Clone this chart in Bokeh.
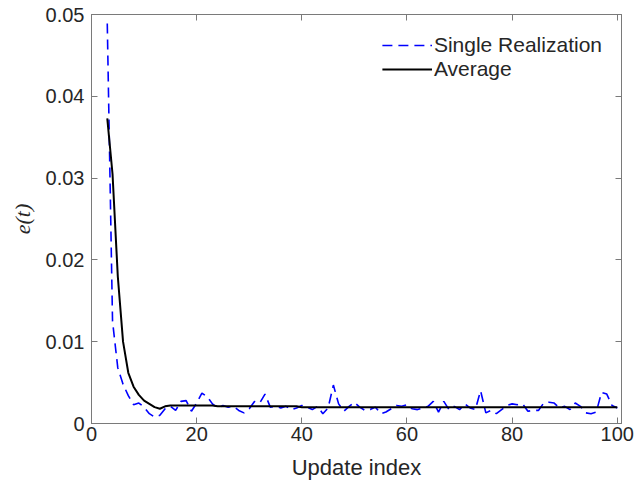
from bokeh.plotting import figure
from bokeh.models import (Range1d, LinearAxis, FixedTicker, CustomJSTickFormatter,
                          Legend, LegendItem)
from bokeh.embed import file_html
from bokeh.resources import INLINE

# ---- data ----
x_single = list(range(3, 101))
y_single = [0.0489, 0.0125, 0.0068, 0.0048, 0.0034, 0.0023, 0.0025, 0.0020, 0.0012, 0.0008,
            0.0010, 0.0018, 0.0021, 0.0016, 0.0027, 0.0028, 0.0015, 0.0025, 0.0037, 0.0033,
            0.0024, 0.0019, 0.0022, 0.0020, 0.0021, 0.0016, 0.0013, 0.0018, 0.0027, 0.0025,
            0.0036, 0.0020, 0.0021, 0.0019, 0.0021, 0.0017, 0.0019, 0.0022, 0.0020, 0.0017,
            0.0021, 0.0012, 0.0019, 0.0047, 0.0024, 0.0015, 0.0021, 0.0026, 0.0020, 0.0016,
            0.0017, 0.0020, 0.0012, 0.0014, 0.0018, 0.0022, 0.0021, 0.0023, 0.0018, 0.0017,
            0.0019, 0.0021, 0.0027, 0.0014, 0.0027, 0.0017, 0.0021, 0.0017, 0.0024, 0.0019,
            0.0017, 0.0040, 0.0013, 0.0016, 0.0012, 0.0017, 0.0022, 0.0024, 0.0023, 0.0024,
            0.0015, 0.0016, 0.0016, 0.0025, 0.0026, 0.0025, 0.0019, 0.0021, 0.0017, 0.0025,
            0.0021, 0.0013, 0.0012, 0.0014, 0.0038, 0.0036, 0.0022, 0.0019]

x_avg = list(range(3, 101))
y_avg = [0.0373, 0.0305, 0.0180, 0.0100, 0.0062, 0.0045, 0.0035, 0.0028, 0.0024, 0.0020,
         0.0018, 0.0021, 0.0022, 0.0022, 0.0022, 0.0022, 0.0022, 0.0022, 0.0022, 0.0022,
         0.0022, 0.0021, 0.0021, 0.0021, 0.0021, 0.0021, 0.0021, 0.0021, 0.0021, 0.0021,
         0.0021, 0.0021, 0.0021, 0.0021, 0.0021, 0.0021, 0.0021, 0.0020, 0.0020, 0.0020,
         0.0020, 0.0020, 0.0020, 0.0020, 0.0020, 0.0020, 0.0020, 0.0020, 0.0020, 0.0020,
         0.0020, 0.0020, 0.0020, 0.0020, 0.0020, 0.0020, 0.0020, 0.0020, 0.0020, 0.0020,
         0.0020, 0.0020, 0.0020, 0.0020, 0.0020, 0.0020, 0.0020, 0.0020, 0.0020, 0.0020,
         0.0020, 0.0020, 0.0020, 0.0020, 0.0020, 0.0020, 0.0020, 0.0020, 0.0020, 0.0020,
         0.0020, 0.0020, 0.0020, 0.0020, 0.0020, 0.0020, 0.0020, 0.0020, 0.0020, 0.0020,
         0.0020, 0.0020, 0.0020, 0.0020, 0.0020, 0.0020, 0.0020, 0.0020]

x_ticks = [0, 20, 40, 60, 80, 100]
y_ticks = [0, 0.01, 0.02, 0.03, 0.04, 0.05]
series_labels = ["Single Realization", "Average"]
x_label = "Update index"
y_label = "e(t)"

FONT = "Liberation Sans"
AX = "#7a7a7a"
TXT = "#262626"

p = figure(width=634, height=486, output_backend="svg", toolbar_location=None,
           x_range=Range1d(0, 100.8), y_range=Range1d(0, 0.05),
           min_border_left=91, min_border_right=13, min_border_top=14, min_border_bottom=63)
p.xgrid.visible = False
p.ygrid.visible = False
p.outline_line_color = AX
p.background_fill_color = "white"
p.border_fill_color = "white"

r1 = p.line(x_single, y_single, line_color="#0000ff", line_width=1.6, line_dash="10 6")
r2 = p.line(x_avg, y_avg, line_color="black", line_width=2)

ytf = CustomJSTickFormatter(code="return tick === 0 ? '0' : tick.toFixed(2);")
blank = CustomJSTickFormatter(code="return '';")

def style(ax):
    ax.axis_line_color = AX
    ax.major_tick_line_color = AX
    ax.major_tick_in = 6
    ax.major_tick_out = 0
    ax.minor_tick_line_color = None
    ax.major_label_text_font = FONT
    ax.major_label_text_font_size = "20px"
    ax.major_label_text_color = TXT
    ax.axis_label_text_color = TXT

xa = p.xaxis[0]
xa.ticker = FixedTicker(ticks=x_ticks)
style(xa)
xa.axis_label = x_label
xa.axis_label_text_font = FONT
xa.axis_label_text_font_size = "22px"
xa.axis_label_text_font_style = "normal"
xa.major_label_standoff = 3
xa.axis_label_standoff = 11

ya = p.yaxis[0]
ya.ticker = FixedTicker(ticks=y_ticks)
ya.formatter = ytf
style(ya)
ya.axis_label = y_label
ya.axis_label_text_font = "Liberation Serif"
ya.axis_label_text_font_size = "22px"
ya.axis_label_text_font_style = "italic"
ya.major_label_standoff = 7
ya.axis_label_standoff = 8

top = LinearAxis(ticker=FixedTicker(ticks=x_ticks), formatter=blank)
style(top)
top.major_label_text_font_size = "1px"
p.add_layout(top, "above")
right = LinearAxis(ticker=FixedTicker(ticks=y_ticks), formatter=blank)
style(right)
right.major_label_text_font_size = "1px"
p.add_layout(right, "right")

legend = Legend(items=[LegendItem(label=series_labels[0], renderers=[r1]),
                       LegendItem(label=series_labels[1], renderers=[r2])],
                location="top_right")
legend.label_text_font = FONT
legend.label_text_font_size = "21px"
legend.label_text_color = TXT
legend.glyph_width = 50
legend.glyph_height = 18
legend.label_standoff = 2
legend.label_height = 18
legend.spacing = 0
legend.padding = 4
legend.margin = 15
legend.border_line_alpha = 0
legend.background_fill_alpha = 0
p.add_layout(legend)

open("out.html", "w").write(file_html(p, INLINE))
